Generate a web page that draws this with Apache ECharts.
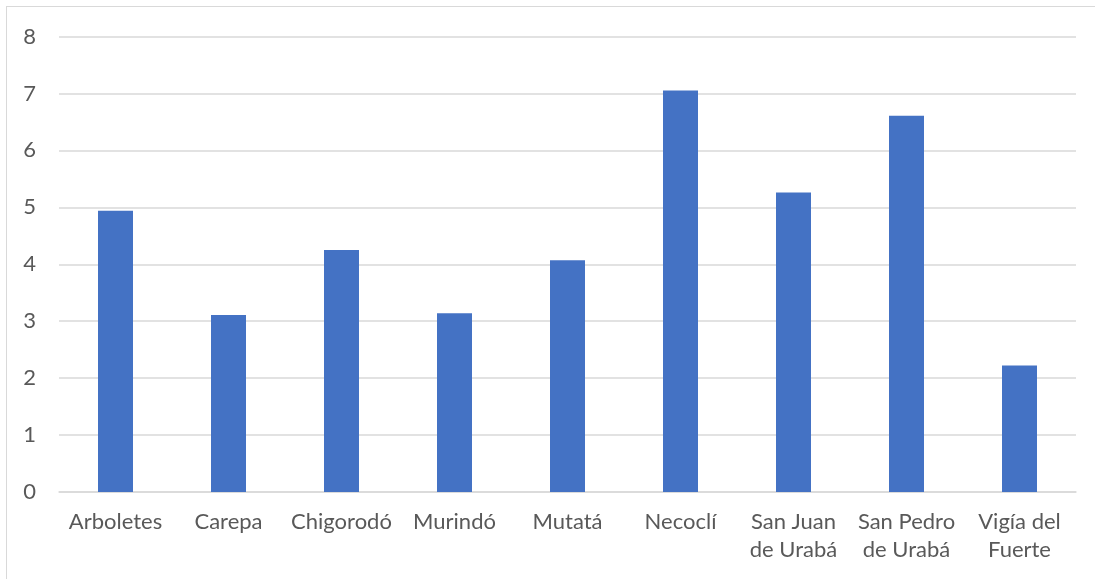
<!DOCTYPE html>
<html>
<head>
<meta charset="utf-8">
<script src="https://cdn.jsdelivr.net/npm/echarts@6/dist/echarts.min.js"></script>
<style>
html,body{margin:0;padding:0;background:#fff;overflow:hidden;}
#frame{position:absolute;left:6px;top:6px;width:1200px;height:700px;border-left:1.5px solid #d9d9d9;border-top:1.5px solid #d9d9d9;}
#chart{position:absolute;left:0;top:0;width:1095px;height:579px;}
</style>
</head>
<body>
<div id="frame"></div>
<div id="chart"></div>
<script>
var categories = ["Arboletes", "Carepa", "Chigorodó", "Murindó", "Mutatá", "Necoclí", "San Juan\nde Urabá", "San Pedro\nde Urabá", "Vigía del\nFuerte"];
var values = [4.94, 3.11, 4.25, 3.14, 4.07, 7.05, 5.26, 6.61, 2.22];
var yTicks = [0, 1, 2, 3, 4, 5, 6, 7, 8];

var chart = echarts.init(document.getElementById('chart'), null, {renderer: 'canvas'});
chart.setOption({
  animation: false,
  backgroundColor: 'transparent',
  textStyle: {fontFamily: 'Lato'},
  grid: {left: 59, right: 19, top: 36.5, bottom: 87, containLabel: false},
  xAxis: {
    type: 'category',
    data: categories,
    axisLine: {show: true, lineStyle: {color: '#d9d9d9', width: 1.5}},
    axisTick: {show: false},
    axisLabel: {color: '#595959', fontSize: 22, fontFamily: 'Lato', lineHeight: 28, margin: 16, interval: 0}
  },
  yAxis: {
    type: 'value',
    min: yTicks[0],
    max: yTicks[yTicks.length - 1],
    interval: 1,
    axisLine: {show: false},
    axisTick: {show: false},
    splitLine: {show: true, lineStyle: {color: '#d9d9d9', width: 1.5}},
    axisLabel: {color: '#595959', fontSize: 22, fontFamily: 'Lato', margin: 23}
  },
  series: [{
    type: 'bar',
    data: values,
    barWidth: 35,
    itemStyle: {color: '#4472c4'}
  }]
});
</script>
</body>
</html>
